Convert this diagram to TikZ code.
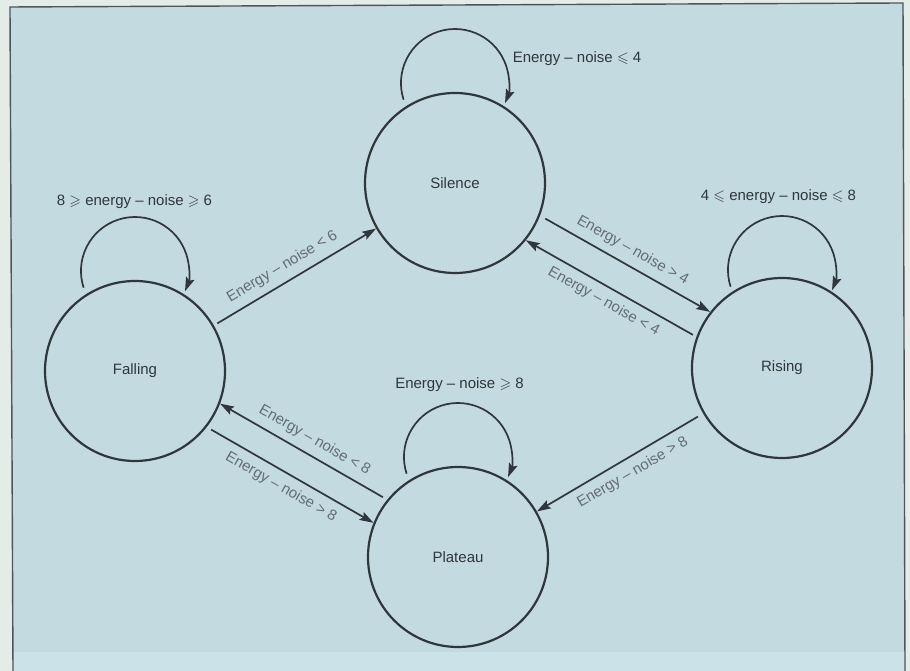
\documentclass[tikz,border=0pt]{standalone}
\usepackage{fontspec}
\setmainfont{Liberation Sans}
\usepackage{amssymb}
\usetikzlibrary{arrows.meta,calc}
\definecolor{bgblue}{RGB}{195,219,224}
\definecolor{outerc}{RGB}{228,236,232}
\definecolor{stripc}{RGB}{203,226,232}
\definecolor{ink}{RGB}{48,54,60}
\definecolor{lbl}{RGB}{100,108,114}
\begin{document}
\begin{tikzpicture}[x=1pt,y=1pt,
  state/.style={circle, draw=ink, line width=2.2pt, minimum size=180pt, inner sep=0pt,
    font=\fontsize{15}{18}\selectfont, text=ink},
  conn/.style={draw=ink, line width=1.7pt, -{Stealth[length=14pt,width=9pt,inset=2.5pt]}},
  tlabel/.style={font=\fontsize{15}{18}\selectfont, text=lbl, sloped},
  looplabel/.style={font=\fontsize{15}{18}\selectfont, text=ink},
]
\useasboundingbox (0,0) rectangle (910,671);
% background and frame
\fill[outerc] (0,0) rectangle (910,671);
\fill[bgblue] (13,0) -- (10,664) -- (903,668) -- (905,0) -- cycle;
\fill[stripc] (13,0) rectangle (905,19);
\draw[ink!85, line width=1.4pt] (13,0) -- (10,664) -- (903,668) -- (905,0);

% states
\node[state] (S) at (455,488) {Silence};
\node[state] (F) at (135,300) {Falling};
\node[state] (R) at (782,303) {Rising};
\node[state] (P) at (458,114) {Plateau};

% self loops
\draw[conn] ([shift={(-51.4,83.3)}]S.center) arc[start angle=198, end angle=-22, radius=54];
\draw[conn] ([shift={(-51.4,83.3)}]F.center) arc[start angle=198, end angle=-22, radius=54];
\draw[conn] ([shift={(-51.4,81.3)}]R.center) arc[start angle=198, end angle=-22, radius=54];
\draw[conn] ([shift={(-51.4,83.3)}]P.center) arc[start angle=198, end angle=-22, radius=54];

\node[looplabel] (LS) at (577,612) {Energy -- noise $\leqslant$ 4};
\node[looplabel] (LF) at (134.5,469) {8 $\geqslant$ energy -- noise $\geqslant$ 6};
\node[looplabel] (LR) at (778.5,474) {4 $\leqslant$ energy -- noise $\leqslant$ 8};
\node[looplabel] (LP) at (459.5,286) {Energy -- noise $\geqslant$ 8};

% transitions
\draw[conn, shorten <=4pt] (F.30.4) -- node[tlabel, above=4pt, pos=0.47] {Energy -- noise < 6} (S.210.4);
\draw[conn, shorten <=6pt] (S.-21.2) -- node[tlabel, above=4pt, pos=0.5] {Energy -- noise > 4} (R.142.2);
\draw[conn, shorten <=4pt] (R.160.1) -- node[tlabel, below=4pt, pos=0.5] {Energy -- noise < 4} (S.-39.1);
\draw[conn, shorten <=5pt] (P.141.8) -- node[tlabel, above=4pt, pos=0.48] {Energy -- noise < 8} (F.-21.6);
\draw[conn, shorten <=5pt] (F.-38.2) -- node[tlabel, below=4pt, pos=0.49] {Energy -- noise > 8} (P.158.4);
\draw[conn, shorten <=6pt] (R.210.3) -- node[tlabel, below=4pt, pos=0.47] {Energy -- noise > 8} (P.30.3);
\end{tikzpicture}
\end{document}
